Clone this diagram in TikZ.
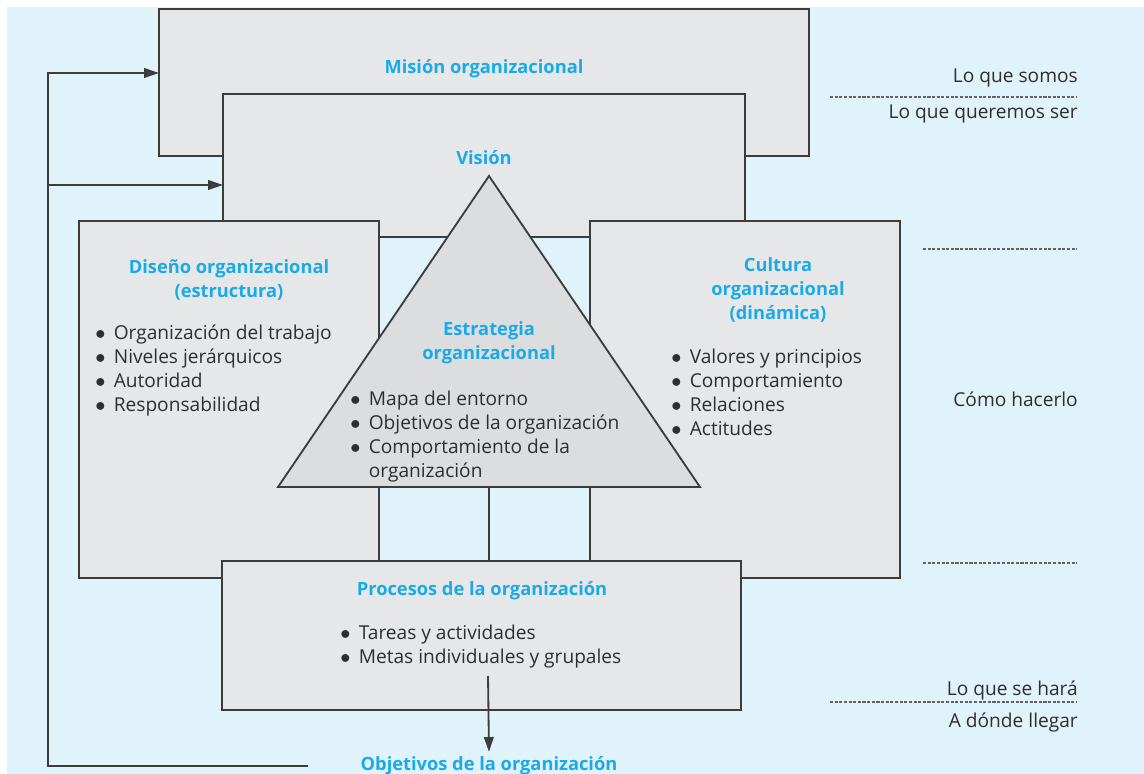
\documentclass[tikz,border=0pt]{standalone}
\usepackage{fontspec}
\setmainfont{Open Sans}
\usetikzlibrary{arrows.meta}
\definecolor{bgblue}{HTML}{E0F2FA}
\definecolor{boxfill}{HTML}{E6E7E9}
\definecolor{trifill}{HTML}{DCDDDF}
\definecolor{boxline}{HTML}{3C3C3C}
\definecolor{titleblue}{HTML}{1AAAE8}
\definecolor{textgray}{HTML}{2E2E2E}
\newcommand{\bulletlist}[1]{\begin{tabular}{@{}l@{\hspace{6pt}}l@{}}#1\end{tabular}}
\newcommand{\bl}{$\bullet$ &}

\begin{document}
\begin{tikzpicture}[x=0.025cm, y=-0.025cm,
  font=\fontsize{13.6}{17}\selectfont,
  box/.style={draw=boxline, fill=boxfill, line width=1.3pt, anchor=north west, inner sep=0pt, outer sep=0pt},
  title/.style={text=titleblue, font=\fontsize{13}{17}\selectfont\bfseries, align=center},
  items/.style={anchor=west, inner sep=0pt, text=textgray},
  note/.style={anchor=east, inner sep=0pt, text=textgray},
  guide/.style={draw=boxline!80, line width=0.8pt, dash pattern=on 2.2pt off 1.1pt},
  link/.style={draw=boxline, line width=1.3pt},
  flow/.style={link, -{Triangle[length=3.7mm, width=2.4mm]}}]

\useasboundingbox (0,0) rectangle (1144,774);
\fill[bgblue] (7,7) rectangle (1144,774);

% cajas
\node[box, minimum width=16.25cm, minimum height=3.675cm] (mision) at (159,9) {};
\node[box, minimum width=13.05cm, minimum height=3.575cm] (vision) at (223,94) {};
\node[box, minimum width=7.5cm, minimum height=8.925cm] (diseno) at (79,221) {};
\node[box, minimum width=7.75cm, minimum height=8.925cm] (cultura) at (590,221) {};

% triangulo de la estrategia
\coordinate (apex) at (489,176);
\coordinate (baseL) at (278,487);
\coordinate (baseR) at (700,487);
\coordinate (basemid) at (489,487);
\draw[link, fill=trifill] (apex) -- (baseR) -- (baseL) -- cycle;

\node[box, minimum width=12.975cm, minimum height=3.725cm] (procesos) at (222,561) {};
\draw[link] (basemid) -- (basemid |- procesos.north);

% titulos
\node[title] (tmision) at (484,69) {Misión organizacional};
\node[title] (tvision) at (484,158) {Visión};
\node[title] (tdiseno) at (229,280) {Diseño organizacional\\(estructura)};
\node[title] (tcultura) at (778,290) {Cultura\\organizacional\\(dinámica)};
\node[title] (testrategia) at (489,343) {Estrategia\\organizacional};
\node[title] (tprocesos) at (482,591) {Procesos de la organización};
\node[title] (objetivos) at (489,766) {Objetivos de la organización};

% listas
\node[items] (ldiseno) at (95,371) {\bulletlist{
  \bl Organización del trabajo\\
  \bl Niveles jerárquicos\\
  \bl Autoridad\\
  \bl Responsabilidad}};
\node[items] (lcultura) at (671,395) {\bulletlist{
  \bl Valores y principios\\
  \bl Comportamiento\\
  \bl Relaciones\\
  \bl Actitudes}};
\node[items] (lestrategia) at (350,437) {\bulletlist{
  \bl Mapa del entorno\\
  \bl Objetivos de la organización\\
  \bl Comportamiento de la\\
  & organización}};
\node[items] (lprocesos) at (340,647) {\bulletlist{
  \bl Tareas y actividades\\
  \bl Metas individuales y grupales}};

% notas de la derecha
\node[note] (somos) at (1078,78) {Lo que somos};
\node[note] (queremos) at (1078,114) {Lo que queremos ser};
\node[note] (como) at (1078,399) {Cómo hacerlo};
\node[note] (hara) at (1078,690) {Lo que se hará};
\node[note] (llegar) at (1078,722) {A dónde llegar};
\draw[guide] (830,97) -- (1077,97);
\draw[guide] (923,249) -- (1077,249);
\draw[guide] (923,563) -- (1077,563);
\draw[guide] (830,702) -- (1077,702);

% flechas
\coordinate (flowstart) at (488,676);
\draw[flow] (flowstart) -- (objetivos.north);
\coordinate (fbstart) at (308,766);
\coordinate (fbtop) at (48,73);
\coordinate (fbmid) at (48,185);
\draw[flow] (fbstart) -| (fbtop) -- (fbtop -| mision.west);
\draw[flow] (fbmid) -- (fbmid -| vision.west);

\end{tikzpicture}
\end{document}
